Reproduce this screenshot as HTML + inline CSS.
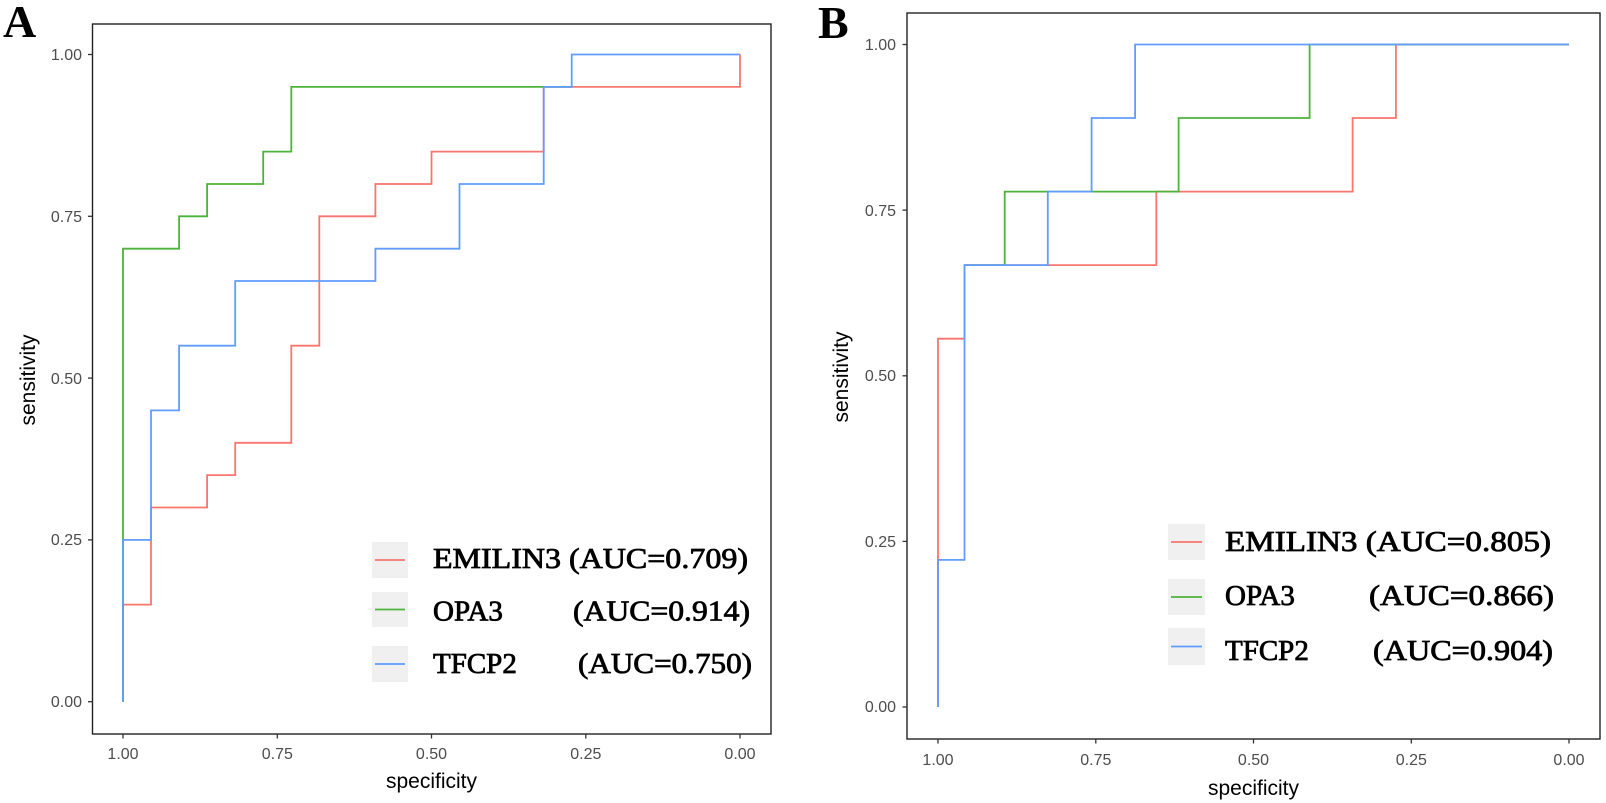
<!DOCTYPE html>
<html><head><meta charset="utf-8"><style>
html,body{margin:0;padding:0;background:#fff;}
svg{display:block;}
.tk{font-family:"Liberation Sans",sans-serif;font-size:16px;fill:#4d4d4d;}
.ti{font-family:"Liberation Sans",sans-serif;font-size:21px;fill:#000;}
.lg{font-family:"Liberation Serif",serif;font-size:29px;fill:#000;stroke:#000;stroke-width:0.8;}
.pl{font-family:"Liberation Serif",serif;font-size:46px;font-weight:bold;fill:#000;}
</style></head><body>
<svg width="1606" height="803" viewBox="0 0 1606 803" xmlns="http://www.w3.org/2000/svg">
<!-- Panel A -->
<text class="pl" x="3" y="37">A</text>
<rect x="92.5" y="24" width="678.5" height="710" fill="none" stroke="#222" stroke-width="1.4"/>
<g stroke="#333" stroke-width="1.3">
<line x1="88" y1="54.5" x2="92.5" y2="54.5"/><line x1="88" y1="216.3" x2="92.5" y2="216.3"/><line x1="88" y1="378.1" x2="92.5" y2="378.1"/><line x1="88" y1="539.9" x2="92.5" y2="539.9"/><line x1="88" y1="701.7" x2="92.5" y2="701.7"/>
<line x1="123" y1="734" x2="123" y2="738.5"/><line x1="277.3" y1="734" x2="277.3" y2="738.5"/><line x1="431.5" y1="734" x2="431.5" y2="738.5"/><line x1="585.8" y1="734" x2="585.8" y2="738.5"/><line x1="740" y1="734" x2="740" y2="738.5"/>
</g>
<g class="tk" text-anchor="end">
<text x="82" y="60">1.00</text><text x="82" y="222">0.75</text><text x="82" y="384">0.50</text><text x="82" y="545">0.25</text><text x="82" y="707">0.00</text>
</g>
<g class="tk" text-anchor="middle">
<text x="123" y="759">1.00</text><text x="277.3" y="759">0.75</text><text x="431.5" y="759">0.50</text><text x="585.8" y="759">0.25</text><text x="740" y="759">0.00</text>
</g>
<text class="ti" x="431.5" y="788" text-anchor="middle">specificity</text>
<text class="ti" transform="translate(35,380) rotate(-90)" text-anchor="middle">sensitivity</text>
<g fill="none" stroke-width="1.8">
<polyline stroke="#F8766D" points="123,701.7 123,604.6 151,604.6 151,507.5 207.1,507.5 207.1,475.1 235.2,475.1 235.2,442.8 291.3,442.8 291.3,345.7 319.3,345.7 319.3,216.3 375.4,216.3 375.4,184 431.5,184 431.5,151.6 543.7,151.6 543.7,86.9 740,86.9 740,54.5"/>
<polyline stroke="#4DB33A" points="123,701.7 123,248.7 179.1,248.7 179.1,216.3 207.1,216.3 207.1,184 263.2,184 263.2,151.6 291.3,151.6 291.3,86.9 571.7,86.9"/>
<polyline stroke="#619CFF" points="123,701.7 123,539.9 151,539.9 151,410.4 179.1,410.4 179.1,345.7 235.2,345.7 235.2,281 375.4,281 375.4,248.7 459.5,248.7 459.5,184 543.7,184 543.7,86.9 571.7,86.9 571.7,54.5 740,54.5"/>
</g>
<g>
<rect x="372" y="542" width="36" height="36" fill="#f0f0f0"/>
<rect x="372" y="592" width="36" height="35" fill="#f0f0f0"/>
<rect x="372" y="646" width="36" height="36" fill="#f0f0f0"/>
<line x1="375" y1="560" x2="405" y2="560" stroke="#F8766D" stroke-width="1.8"/>
<line x1="375" y1="609.5" x2="405" y2="609.5" stroke="#4DB33A" stroke-width="1.8"/>
<line x1="375" y1="664" x2="405" y2="664" stroke="#619CFF" stroke-width="1.8"/>
<text class="lg" x="433" y="568" textLength="315" lengthAdjust="spacingAndGlyphs">EMILIN3 (AUC=0.709)</text>
<text class="lg" x="433" y="620.5">OPA3</text>
<text class="lg" x="573" y="620.5" textLength="177" lengthAdjust="spacingAndGlyphs">(AUC=0.914)</text>
<text class="lg" x="433" y="673">TFCP2</text>
<text class="lg" x="578" y="673" textLength="174" lengthAdjust="spacingAndGlyphs">(AUC=0.750)</text>
</g>

<!-- Panel B -->
<text class="pl" x="818" y="38">B</text>
<rect x="907" y="13" width="693" height="726" fill="none" stroke="#222" stroke-width="1.4"/>
<g stroke="#333" stroke-width="1.3">
<line x1="902.5" y1="44.5" x2="907" y2="44.5"/><line x1="902.5" y1="210.1" x2="907" y2="210.1"/><line x1="902.5" y1="375.8" x2="907" y2="375.8"/><line x1="902.5" y1="541.4" x2="907" y2="541.4"/><line x1="902.5" y1="707" x2="907" y2="707"/>
<line x1="938" y1="739" x2="938" y2="743.5"/><line x1="1095.8" y1="739" x2="1095.8" y2="743.5"/><line x1="1253.5" y1="739" x2="1253.5" y2="743.5"/><line x1="1411.3" y1="739" x2="1411.3" y2="743.5"/><line x1="1569" y1="739" x2="1569" y2="743.5"/>
</g>
<g class="tk" text-anchor="end">
<text x="896" y="50">1.00</text><text x="896" y="216">0.75</text><text x="896" y="381">0.50</text><text x="896" y="547">0.25</text><text x="896" y="712">0.00</text>
</g>
<g class="tk" text-anchor="middle">
<text x="938" y="765">1.00</text><text x="1095.8" y="765">0.75</text><text x="1253.5" y="765">0.50</text><text x="1411.3" y="765">0.25</text><text x="1569" y="765">0.00</text>
</g>
<text class="ti" x="1253.5" y="795" text-anchor="middle">specificity</text>
<text class="ti" transform="translate(848,377) rotate(-90)" text-anchor="middle">sensitivity</text>
<g fill="none" stroke-width="1.8">
<polyline stroke="#F8766D" points="938,707 938,338.7 964.5,338.7 964.5,265.1 1156.3,265.1 1156.3,191.6 1352.6,191.6 1352.6,118 1395.9,118 1395.9,44.5 1569,44.5"/>
<polyline stroke="#4DB33A" points="964.5,265.1 1004.7,265.1 1004.7,191.6 1178.6,191.6 1178.6,118 1309.6,118 1309.6,44.5 1569,44.5"/>
<polyline stroke="#619CFF" points="938,707 938,559.9 964.5,559.9 964.5,265.1 1047.8,265.1 1047.8,191.6 1091.6,191.6 1091.6,118 1135.1,118 1135.1,44.5 1569,44.5"/>
</g>
<g>
<rect x="1168" y="524" width="37" height="36" fill="#f0f0f0"/>
<rect x="1168" y="579" width="37" height="36" fill="#f0f0f0"/>
<rect x="1168" y="628" width="37" height="37" fill="#f0f0f0"/>
<line x1="1171" y1="542" x2="1202" y2="542" stroke="#F8766D" stroke-width="1.8"/>
<line x1="1171" y1="597" x2="1202" y2="597" stroke="#4DB33A" stroke-width="1.8"/>
<line x1="1171" y1="646.5" x2="1202" y2="646.5" stroke="#619CFF" stroke-width="1.8"/>
<text class="lg" x="1225" y="551" textLength="326" lengthAdjust="spacingAndGlyphs">EMILIN3 (AUC=0.805)</text>
<text class="lg" x="1225" y="605">OPA3</text>
<text class="lg" x="1369" y="605" textLength="185" lengthAdjust="spacingAndGlyphs">(AUC=0.866)</text>
<text class="lg" x="1225" y="660">TFCP2</text>
<text class="lg" x="1373" y="660" textLength="180" lengthAdjust="spacingAndGlyphs">(AUC=0.904)</text>
</g>
</svg>
</body></html>
